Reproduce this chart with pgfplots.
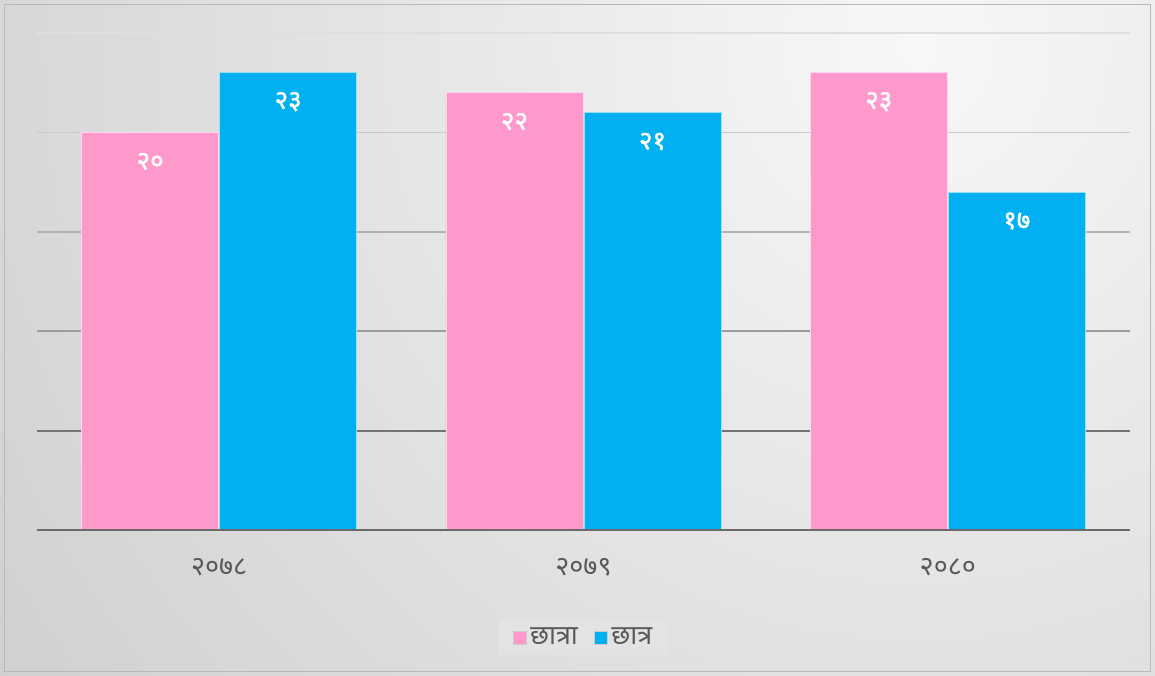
\documentclass[border=0pt]{standalone}
\usepackage{pgfplots}
\pgfplotsset{compat=1.18}
\usepackage{pgfplotstable}
\usepackage{fontspec}
\setmainfont{Noto Sans}
\newfontfamily\devfont[Script=Devanagari]{Noto Sans}
\newfontfamily\devbold[Script=Devanagari,FakeBold=1.6]{Noto Sans}
\definecolor{pinkbar}{HTML}{FF99CC}
\definecolor{bluebar}{HTML}{00B0F0}
\definecolor{txtgray}{HTML}{595959}
\definecolor{baseln}{HTML}{6B6B6B}
\pgfplotstableread{
x y lab
0 20 २०
1 22 २२
2 23 २३
}\girls
\pgfplotstableread{
x y lab
0 23 २३
1 21 २१
2 17 १७
}\boys
\begin{document}
\begin{tikzpicture}
\begin{scope}
\clip (-37pt,-145pt) rectangle (1118pt,530pt);
\fill[gray!46] (-37pt,-145pt) rectangle (1118pt,530pt);
\shade[inner color=gray!6, outer color=gray!46] (880pt,480pt) circle (1450pt);
\end{scope}
\draw[gray!55, line width=1pt] (-32pt,-141pt) rectangle (1113pt,525pt);
\begin{axis}[
  scale only axis,
  width=1093pt, height=497pt,
  xmin=-0.5, xmax=2.5, ymin=0, ymax=25,
  axis x line*=bottom,
  axis y line=none,
  x axis line style={line width=2.6pt, color=baseln},
  xtick={0,1,2},
  xticklabels={२०७८,२०७९,२०८०},
  major tick length=0pt,
  xticklabel style={font=\devfont\fontsize{27}{30}\selectfont, text=txtgray, anchor=center, yshift=-37pt},
  ybar, bar width=137pt,
  point meta=explicit symbolic,
  nodes near coords={\pgfplotspointmeta},
  nodes near coords style={font=\devbold\fontsize{26}{30}\selectfont, text=white, anchor=center, yshift=-29pt},
  legend style={at={(0.5,-0.215)}, anchor=center, fill=gray!22, draw=none,
    font=\devfont\fontsize{27}{30}\selectfont, text=txtgray,
    legend columns=2, inner xsep=14pt, inner ysep=7pt,
    /tikz/every odd column/.append style={column sep=2pt},
    /tikz/every even column/.append style={column sep=14pt}},
  legend image code/.code={\draw[#1, draw=white!60!gray, line width=0.5pt] (0pt,-7pt) rectangle (13pt,6pt);},
  clip=false,
]
\draw[gray!90!black, line width=1.8pt] (axis cs:-0.5,5) -- (axis cs:2.5,5);
\draw[gray!78, line width=1.8pt] (axis cs:-0.5,10) -- (axis cs:2.5,10);
\draw[gray!60, line width=1.8pt] (axis cs:-0.5,15) -- (axis cs:2.5,15);
\draw[gray!42, line width=1.8pt] (axis cs:-0.5,20) -- (axis cs:2.5,20);
\draw[gray!25, line width=1.8pt] (axis cs:-0.5,25) -- (axis cs:2.5,25);
\addplot[fill=pinkbar, draw=white!60!pinkbar, line width=0.8pt, bar shift=-69pt] table[x=x, y=y, meta=lab] {\girls};
\addplot[fill=bluebar, draw=white!60!bluebar, line width=0.8pt, bar shift=69pt] table[x=x, y=y, meta=lab] {\boys};
\legend{छात्रा, छात्र}
\draw[baseln, line width=2.6pt] (axis cs:-0.5,0) -- (axis cs:2.5,0);
\end{axis}
\end{tikzpicture}
\end{document}
